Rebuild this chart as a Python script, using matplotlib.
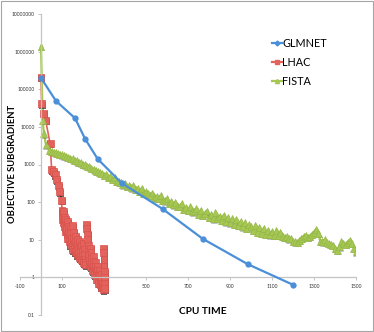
import numpy as np
import matplotlib
matplotlib.use("Agg")
import matplotlib.pyplot as plt
import matplotlib.patheffects as pe
from matplotlib.patches import Rectangle

plt.rcParams['font.family'] = ['Lato', 'DejaVu Sans']

# GLMNET
glm_x = [0, 71, 162, 210, 270, 384, 579, 770, 984, 1199]
glm_y = [2.0e5, 4.9e4, 1.7e4, 4.8e3, 1.4e3, 320, 66, 10.6, 2.25, 0.64]

# LHAC
lhac_x = [0, 3, 11, 22, 43, 51, 59, 67, 75, 82, 90, 98,
          100, 102, 104, 106, 108, 110, 112, 114, 116, 118, 120, 122, 124, 126,
          128, 130, 132, 134, 136, 138, 140, 142, 144, 146, 148, 150, 152, 154,
          156, 158, 160, 162, 164, 166, 168, 170, 172, 174, 176, 178, 180, 182,
          184, 186, 188, 190, 192, 194, 196, 198, 200, 202, 204, 206, 208, 210,
          212, 214, 216, 218, 220, 222, 224, 226, 228, 230, 232, 234, 236, 238,
          240, 242, 244, 246, 248, 250, 252, 254, 256, 258, 260, 262, 264, 266,
          268, 270, 272, 274, 276, 278, 280, 282, 284, 286, 288, 290, 292, 294,
          296, 298, 299, 300, 300, 301, 301, 302, 302]
lhac_y = [2.1e5, 4.1e4, 2.3e4, 1.5e4, 3.7e3, 720, 650, 530, 390, 270, 190, 113,
          60, 45, 35, 28, 55, 40, 30, 22, 17, 35, 26, 19, 14, 11,
          30, 22, 16, 12, 9, 7.5, 20, 15, 11, 8.5, 6.5, 5.5, 24, 16,
          11, 8, 6, 4.8, 12, 9, 6.5, 5, 4, 10, 7.5, 5.5, 4.2, 3.4,
          9, 6.5, 4.8, 3.6, 3, 7, 5, 3.8, 3, 2.5, 8, 5.5, 4, 3,
          2.5, 2.2, 25, 20, 14, 10, 7, 5, 3.8, 2.8, 2.2, 1.9, 6, 4.5,
          3.2, 2.4, 1.8, 1.5, 3.5, 2.6, 2, 1.5, 1.2, 2.5, 1.9, 1.4, 1.1, 0.9,
          2, 1.5, 1.1, 0.85, 0.7, 1.5, 1.1, 0.85, 0.65, 0.55, 1.2, 0.9, 0.7, 0.55,
          0.48, 6, 4.5, 3, 2, 1.4, 1, 0.7, 0.5]

# FISTA
fista_x = [0, 8, 14, 24] + list(range(40, 1501, 10))
fista_y = [1.36e6, 1.5e4, 6.5e3, 3.3e3,
           2350, 2250, 2150, 2050, 2000, 1850, 1800, 1700, 1600, 1550,
           1450, 1420, 1300, 1250, 1150, 1120, 1020, 980, 900, 870,
           780, 760, 680, 660, 600, 580, 520, 560, 450, 470,
           400, 440, 360, 350, 340, 290, 320, 260, 280, 240,
           275, 215, 225, 190, 230, 170, 190, 165, 150, 175,
           130, 140, 125, 150, 110, 108, 125, 92, 105, 84,
           100, 76, 78, 90, 65, 72, 60, 75, 55, 58,
           66, 47, 60, 44, 50, 58, 40, 48, 36, 52,
           37, 42, 33, 45, 30, 38, 28, 36, 26, 34,
           24, 30, 22, 28, 20, 25, 22, 18, 24, 16,
           21, 15, 20, 14, 18, 13.5, 17, 13, 17.5, 13,
           16, 12.5, 11.5, 12, 10.5, 11, 9, 8.8, 8.5, 9.5,
           11, 12.5, 13, 11.5, 12.5, 14, 16, 19, 15, 9,
           8.8, 10, 8.5, 8, 7.5, 7, 6, 5.3, 6.5, 8.8,
           8, 7.5, 8.5, 9.8, 8, 6, 4.8]

x_ticks = [-100, 100, 300, 500, 700, 900, 1100, 1300, 1500]
y_ticks = [0.1, 1, 10, 100, 1000, 10000, 100000, 1000000, 10000000]
y_tick_labels = ['0.1', '1', '10', '100', '1000', '10000', '100000', '1000000', '10000000']

blue = '#4a8fd8'
red = '#e4625c'
green = '#a6c853'

fig = plt.figure(figsize=(3.74, 3.32), dpi=100)
ax = fig.add_axes([20 / 374, 17 / 332, 336 / 374, 301 / 332])
ax.set_yscale('log')
ax.set_xlim(-100, 1500)
ax.set_ylim(0.1, 1e7)

# lines
ax.plot(glm_x, glm_y, color=blue, lw=1.6, zorder=3)
ax.plot(lhac_x, lhac_y, color=red, lw=1.2, zorder=2)
ax.plot(fista_x, fista_y, color=green, lw=1.6, zorder=2)

# markers with small shadows
ax.plot(glm_x, glm_y, ls='none', marker='o', ms=3.5, color=blue, mec=blue, zorder=4)
ax.plot(lhac_x, lhac_y, ls='none', marker='s', ms=5, color=red, mec='#d9534e', mew=0.5,
        zorder=2, path_effects=[pe.SimplePatchShadow(offset=(0.6, -1.2), shadow_rgbFace='#000000', alpha=0.6),
                                pe.Normal()])
ax.plot(fista_x, fista_y, ls='none', marker='^', ms=5, color=green, mec='#95b847', mew=0.5,
        zorder=2, path_effects=[pe.SimplePatchShadow(offset=(0.6, -1.0), shadow_rgbFace='#666666', alpha=0.4),
                                pe.Normal()])

# legend entries
h1, = ax.plot([], [], color=blue, lw=1.6, marker='D', ms=2.5, label='GLMNET')
h2, = ax.plot([], [], color=red, lw=1.6, marker='s', ms=3, label='LHAC')
h3, = ax.plot([], [], color=green, lw=1.6, marker='^', ms=3, label='FISTA')
ax.legend(handles=[h1, h2, h3], loc='upper left', bbox_to_anchor=(272 / 374, 1 - 38 / 332),
          bbox_transform=fig.transFigure, frameon=False, fontsize=7.8, handlelength=0.9,
          handletextpad=0.05, labelspacing=0.75, borderaxespad=0, borderpad=0)

# axes crossing like the original
for s in ['top', 'right']:
    ax.spines[s].set_visible(False)
ax.spines['left'].set_position(('data', 0))
ax.spines['bottom'].set_position(('data', 1))
for s in ['left', 'bottom']:
    ax.spines[s].set_color('#c4c4c4')
    ax.spines[s].set_linewidth(0.9)

ax.set_xticks(x_ticks)
ax.set_xticklabels([str(t) for t in x_ticks])
ax.set_yticks(y_ticks)
ax.set_yticklabels(y_tick_labels)
ax.yaxis.set_minor_locator(matplotlib.ticker.NullLocator())
ax.tick_params(axis='both', labelsize=3.6, colors='#c4c4c4', labelcolor='#333333',
               length=2.5, width=0.7, pad=2)

fig.text(13 / 374, 1 - 164 / 332, 'OBJECTIVE SUBGRADIENT', rotation=90, ha='center', va='center',
         fontsize=6.8, fontweight='bold')
fig.text(203 / 374, 1 - 311 / 332, 'CPU TIME', ha='center', va='center',
         fontsize=7.3, fontweight='bold')

fig.patches.append(Rectangle((0.003, 0.003), 0.994, 0.994, transform=fig.transFigure,
                             fill=False, edgecolor='#a6a6a6', lw=0.8))

fig.savefig('out.png', dpi=100)
